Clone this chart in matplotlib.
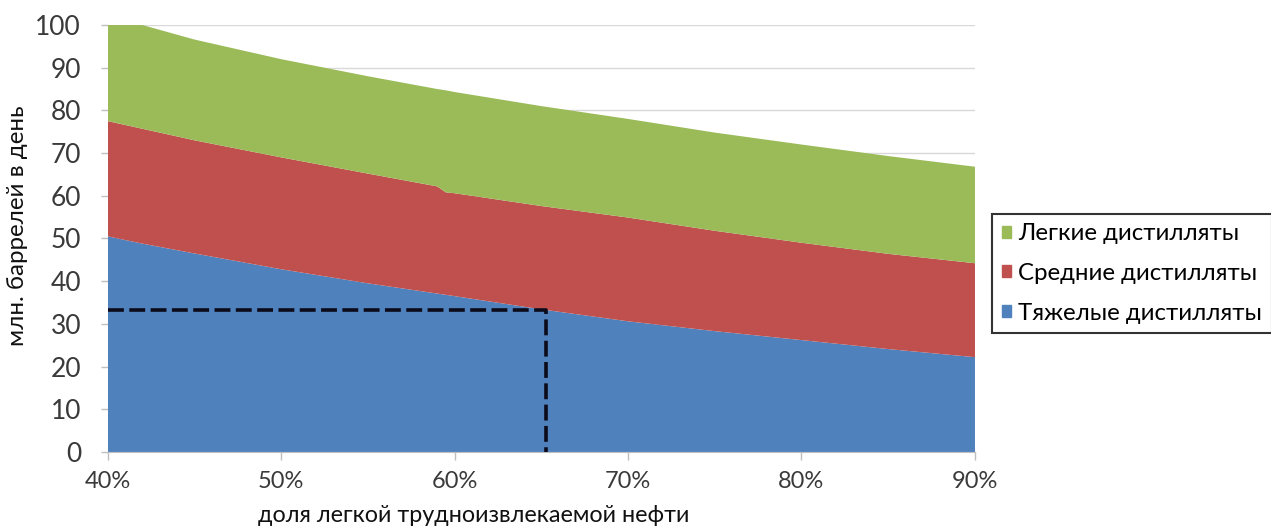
import matplotlib
matplotlib.use("Agg")
import matplotlib.pyplot as plt
import matplotlib.patches as mpatches

# share of light tight oil, %
share_pct = [40, 42, 45, 50, 55, 59, 59.5, 60, 65, 70, 75, 80, 85, 90]

# layer thickness, million barrels per day
heavy = [50.5, 48.8, 46.5, 42.8, 39.5, 37.1, 36.8, 36.5, 33.4, 30.6, 28.3, 26.2, 24.1, 22.2]
medium = [27.0, 26.9, 26.5, 26.2, 25.7, 25.1, 24.0, 24.1, 24.2, 24.3, 23.5, 22.8, 22.3, 22.0]
light = [22.5, 24.3, 23.6, 23.0, 22.8, 22.8, 23.9, 23.7, 23.4, 23.1, 23.0, 23.0, 22.9, 22.6]

labels = ["Тяжелые дистилляты", "Средние дистилляты", "Легкие дистилляты"]
colors = ["#4F81BD", "#C0504D", "#9BBB59"]

# reference point marked with the dashed guide
guide_x = 65.3
guide_y = 33.3

x_ticks = [40, 50, 60, 70, 80, 90]
x_ticklabels = ["40%", "50%", "60%", "70%", "80%", "90%"]
y_ticks = list(range(0, 101, 10))

plt.rcParams["font.family"] = ["Lato", "DejaVu Sans"]

fig = plt.figure(figsize=(12.71, 5.28), dpi=100)
ax = fig.add_axes([0.0846, 0.144, 0.6825, 0.8087])

ax.stackplot(share_pct, heavy, medium, light, colors=colors, labels=labels,
             linewidth=0, zorder=2)
ax.plot([share_pct[0], guide_x, guide_x], [guide_y, guide_y, 0],
        color="#0b0b1a", lw=2.6, dashes=(4.4, 1.5), zorder=3,
        solid_capstyle="butt", dash_capstyle="butt")

ax.set_xlim(40, 90)
ax.set_ylim(0, 100)
ax.set_xticks(x_ticks)
ax.set_xticklabels(x_ticklabels)
ax.set_yticks(y_ticks)
ax.yaxis.grid(True, color="#d9d9d9", lw=1, zorder=0)
ax.set_axisbelow(True)

for side in ["top", "right", "left"]:
    ax.spines[side].set_visible(False)
ax.spines["bottom"].set_color("#bfbfbf")
ax.tick_params(axis="both", colors="#bfbfbf", width=1, labelcolor="#3a3a3a")
ax.tick_params(axis="y", labelsize=19, length=5, pad=14)
ax.tick_params(axis="x", labelsize=17, length=6, pad=8)

ax.set_xlabel("доля легкой трудноизвлекаемой нефти", fontsize=16.8, color="#111111", labelpad=2)
ax.xaxis.set_label_coords(0.4225, -0.125)
ax.set_ylabel("млн. баррелей в день", fontsize=17.4, color="#111111")
ax.yaxis.set_label_coords(-0.092, 0.53)

handles = [mpatches.Patch(color=c, label=l) for c, l in zip(colors, labels)][::-1]
leg = ax.legend(handles=handles, loc="center left", bbox_to_anchor=(1.0196, 0.418),
                fontsize=17.3, frameon=True, fancybox=False, handlelength=0.4,
                handleheight=0.4, handletextpad=0.3, labelspacing=0.78,
                borderpad=0.4, borderaxespad=0)
leg.get_frame().set_edgecolor("black")
leg.get_frame().set_linewidth(1.5)

fig.savefig("out.png", dpi=100, facecolor="white")
